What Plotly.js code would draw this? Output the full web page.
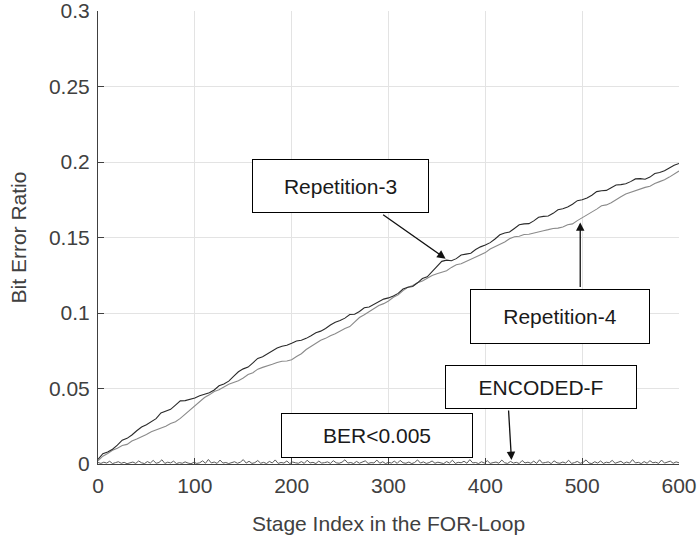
<!DOCTYPE html>
<html>
<head>
<meta charset="utf-8">
<script src="https://cdn.plot.ly/plotly-3.0.1.min.js"></script>
<style>html,body{margin:0;padding:0;background:#fff;}#chart{width:697px;height:537px;}</style>
</head>
<body>
<div id="chart"></div>
<script>
// Stage index sampling for the two repetition curves (every 5 stages)
var stageIdx = [];
for (var s = 0; s <= 120; s++) stageIdx.push(s * 5);

var rep3 = [0.003,0.0068,0.008,0.0098,0.0125,0.0158,0.017,0.0192,0.022,0.0245,
  0.026,0.0278,0.030,0.0338,0.035,0.0362,0.039,0.0418,0.042,0.0428,
  0.0437,0.0452,0.046,0.0472,0.049,0.0518,0.053,0.0549,0.058,0.0611,
  0.063,0.0642,0.067,0.0699,0.071,0.0728,0.075,0.0768,0.078,0.0786,
  0.080,0.0815,0.082,0.0832,0.085,0.0869,0.088,0.0897,0.092,0.0939,
  0.095,0.0966,0.099,0.0992,0.101,0.1035,0.104,0.1056,0.1075,0.1092,
  0.110,0.1112,0.113,0.1159,0.117,0.1176,0.120,0.1228,0.124,0.1272,
  0.131,0.1342,0.135,0.1346,0.136,0.1384,0.139,0.1396,0.142,0.1438,
  0.145,0.1466,0.149,0.1518,0.153,0.1536,0.156,0.1584,0.159,0.1592,
  0.161,0.1634,0.164,0.1642,0.166,0.1684,0.169,0.1702,0.172,0.1744,
  0.175,0.1762,0.178,0.1804,0.181,0.1812,0.183,0.1848,0.185,0.1856,
  0.187,0.1888,0.189,0.1886,0.190,0.1924,0.193,0.1942,0.196,0.1978,
  0.199];

var rep4 = [0.002,0.0052,0.007,0.0091,0.0105,0.0122,0.013,0.0152,0.0165,0.0178,
  0.0195,0.0214,0.0225,0.0236,0.025,0.0268,0.028,0.0302,0.033,0.0362,
  0.039,0.0418,0.044,0.0458,0.048,0.0492,0.051,0.0528,0.054,0.0552,
  0.057,0.0592,0.0605,0.0628,0.064,0.0648,0.066,0.0672,0.068,0.0682,
  0.069,0.0712,0.073,0.0758,0.078,0.0798,0.082,0.0832,0.085,0.0862,
  0.088,0.0898,0.091,0.0942,0.097,0.0988,0.101,0.1028,0.105,0.1062,
  0.108,0.1104,0.112,0.1148,0.117,0.1182,0.120,0.1212,0.123,0.1248,
  0.126,0.1268,0.128,0.1302,0.132,0.1326,0.134,0.1358,0.137,0.1382,
  0.140,0.1424,0.144,0.1452,0.147,0.1492,0.1505,0.1508,0.152,0.1522,
  0.153,0.1542,0.1545,0.1552,0.156,0.1562,0.157,0.1584,0.159,0.1612,
  0.163,0.1648,0.167,0.1688,0.171,0.1716,0.173,0.1752,0.177,0.1788,
  0.180,0.1808,0.182,0.1832,0.184,0.1858,0.187,0.1882,0.190,0.1922,
  0.194];

// ENCODED-F, sampled every 3 stages (0..600)
var encIdx = [];
for (var k = 0; k <= 200; k++) encIdx.push(k * 3);
var encF = [0.0010,0.0004,0.0012,0.0006,0.0018,0.0003,0.0009,0.0015,0.0005,0.0011,
  0.0002,0.0007,0.0013,0.0004,0.0020,0.0008,0.0003,0.0016,0.0006,0.0024,
  0.0005,0.0010,0.0028,0.0004,0.0012,0.0007,0.0019,0.0003,0.0009,0.0005,
  0.0014,0.0006,0.0002,0.0011,0.0004,0.0008,0.0021,0.0005,0.0030,0.0007,
  0.0013,0.0004,0.0026,0.0006,0.0010,0.0003,0.0008,0.0015,0.0005,0.0012,
  0.0029,0.0006,0.0018,0.0004,0.0009,0.0023,0.0005,0.0011,0.0003,0.0017,
  0.0007,0.0027,0.0004,0.0010,0.0006,0.0020,0.0003,0.0013,0.0008,0.0005,
  0.0016,0.0004,0.0025,0.0007,0.0011,0.0003,0.0019,0.0006,0.0009,0.0014,
  0.0004,0.0022,0.0008,0.0005,0.0012,0.0028,0.0006,0.0010,0.0003,0.0017,
  0.0005,0.0013,0.0021,0.0004,0.0009,0.0007,0.0026,0.0005,0.0015,0.0003,
  0.0011,0.0006,0.0019,0.0004,0.0024,0.0008,0.0005,0.0013,0.0003,0.0010,
  0.0027,0.0006,0.0014,0.0004,0.0009,0.0020,0.0005,0.0012,0.0007,0.0003,
  0.0016,0.0006,0.0025,0.0004,0.0011,0.0008,0.0018,0.0005,0.0029,0.0007,
  0.0010,0.0003,0.0015,0.0006,0.0022,0.0004,0.0009,0.0013,0.0005,0.0026,
  0.0008,0.0004,0.0017,0.0006,0.0011,0.0003,0.0023,0.0007,0.0012,0.0005,
  0.0019,0.0004,0.0028,0.0006,0.0010,0.0014,0.0003,0.0021,0.0008,0.0005,
  0.0013,0.0006,0.0025,0.0004,0.0009,0.0017,0.0005,0.0011,0.0027,0.0007,
  0.0003,0.0015,0.0006,0.0020,0.0004,0.0012,0.0008,0.0024,0.0005,0.0010,
  0.0018,0.0004,0.0013,0.0006,0.0029,0.0007,0.0011,0.0003,0.0016,0.0005,
  0.0022,0.0008,0.0012,0.0004,0.0026,0.0006,0.0010,0.0019,0.0005,0.0014,
  0.0008];

var xTickVals = [0,100,200,300,400,500,600];
var xTickText = ["0","100","200","300","400","500","600"];
var yTickVals = [0,0.05,0.1,0.15,0.2,0.25,0.3];
var yTickText = ["0","0.05","0.1","0.15","0.2","0.25","0.3"];

var xTitle = "Stage Index in the FOR-Loop";
var yTitle = "Bit Error Ratio";

var FONT = "Liberation Sans, Arial, Helvetica, sans-serif";
var TXT = "#404040";

var traces = [
  {x: encIdx, y: encF, type: "scatter", mode: "lines", name: "ENCODED-F",
   line: {color: "#5a5a5a", width: 1}},
  {x: stageIdx, y: rep4, type: "scatter", mode: "lines", name: "Repetition-4",
   line: {color: "#8a8a8a", width: 1.1}},
  {x: stageIdx, y: rep3, type: "scatter", mode: "lines", name: "Repetition-3",
   line: {color: "#2a2a2a", width: 1.1}}
];

function box(text, x, y, w, h) {
  return {text: text, x: x, y: y, xref: "x", yref: "y", showarrow: false,
    width: w, height: h, bgcolor: "#ffffff", bordercolor: "#000000", borderwidth: 1,
    borderpad: 0, font: {family: FONT, size: 21, color: "#1a1a1a"}};
}
function arrow(x, y, ax, ay) {
  return {text: "", x: x, y: y, xref: "x", yref: "y", showarrow: true,
    ax: ax, ay: ay, arrowhead: 2, arrowsize: 1.3, arrowwidth: 1.3,
    arrowcolor: "#111111", standoff: 0, startstandoff: 0};
}

var layout = {
  width: 697, height: 537,
  margin: {l: 98, r: 18, t: 11, b: 73, pad: 0},
  paper_bgcolor: "#ffffff", plot_bgcolor: "#ffffff",
  showlegend: false,
  font: {family: FONT, size: 21, color: TXT},
  xaxis: {range: [0, 600], tickmode: "array", tickvals: xTickVals, ticktext: xTickText,
    ticks: "inside", ticklen: 6,
    tickcolor: "#404040", showline: true, linecolor: "#404040", linewidth: 1,
    showgrid: true, gridcolor: "#e3e3e3", gridwidth: 1, zeroline: false,
    ticklabelstandoff: 3, ticklabeloverflow: "allow",
    tickfont: {family: FONT, size: 21, color: TXT},
    title: {text: xTitle, font: {family: FONT, size: 21, color: TXT}, standoff: 20}},
  yaxis: {range: [0, 0.3], tickmode: "array", tickvals: yTickVals, ticktext: yTickText,
    ticks: "inside", ticklen: 6,
    tickcolor: "#404040", showline: true, linecolor: "#404040", linewidth: 1,
    showgrid: true, gridcolor: "#e3e3e3", gridwidth: 1, zeroline: false,
    ticklabelstandoff: 3, ticklabeloverflow: "allow",
    tickfont: {family: FONT, size: 21, color: TXT},
    title: {text: yTitle, font: {family: FONT, size: 21, color: TXT}, standoff: 16}},
  annotations: [
    arrow(359, 0.136, -64, -45),
    arrow(498, 0.160, 0, 66),
    arrow(427, 0.0026, -3, -51),
    box("Repetition-3", 250.4, 0.1844, 175, 52),
    box("Repetition-4", 476.7, 0.0974, 178, 53),
    box("ENCODED-F", 457.2, 0.051, 190, 42),
    box("BER&lt;0.005", 287.7, 0.0187, 190, 43)
  ]
};

Plotly.newPlot("chart", traces, layout, {displayModeBar: false, staticPlot: true});
</script>
</body>
</html>
